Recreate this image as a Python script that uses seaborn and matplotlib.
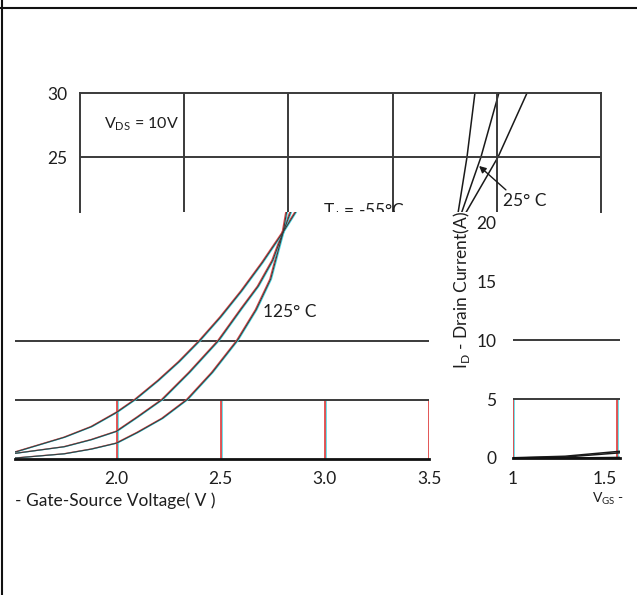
import matplotlib
matplotlib.use("Agg")
import matplotlib.pyplot as plt
import matplotlib.transforms as mtransforms
from matplotlib.lines import Line2D
import numpy as np
import pandas as pd
import seaborn as sns

# ---------------- data ----------------
vgs_125 = [1.0, 1.25, 1.52, 1.75, 1.88, 2.0, 2.09, 2.2, 2.3, 2.4, 2.5, 2.6, 2.7, 2.8, 3.006, 3.145]
id_125 = [0.02, 0.15, 0.58, 1.8, 2.7, 3.9, 5.0, 6.6, 8.2, 10.0, 12.0, 14.2, 16.6, 19.2, 25.0, 30.0]
vgs_25 = [1.0, 1.25, 1.52, 1.75, 1.88, 2.0, 2.1, 2.22, 2.35, 2.49, 2.6, 2.68, 2.75, 2.8, 2.924, 3.01]
id_25 = [0.0, 0.08, 0.45, 1.0, 1.6, 2.3, 3.5, 5.0, 7.3, 10.0, 12.7, 14.6, 16.8, 19.2, 25.0, 30.0]
vgs_m55 = [1.0, 1.25, 1.52, 1.75, 1.88, 2.0, 2.1, 2.22, 2.34, 2.46, 2.58, 2.67, 2.74, 2.8, 2.857, 2.895]
id_m55 = [0.0, 0.0, 0.05, 0.4, 0.8, 1.3, 2.2, 3.4, 5.0, 7.3, 10.0, 12.6, 15.2, 19.2, 25.0, 30.0]

x_ticks_main = [2.0, 2.5, 3.0, 3.5]
x_ticklabels_main = ["2.0", "2.5", "3.0", "3.5"]
x_ticks_left = [1.0, 1.5]
x_ticklabels_left = ["1", "1.5"]
y_ticks = [0, 5, 10, 15, 20]
y_ticks_top = [25, 30]

df = pd.concat([
    pd.DataFrame({"Vgs": vgs_125, "Id": id_125, "Tj": "125"}),
    pd.DataFrame({"Vgs": vgs_25, "Id": id_25, "Tj": "25"}),
    pd.DataFrame({"Vgs": vgs_m55, "Id": id_m55, "Tj": "-55"}),
], ignore_index=True)

# ---------------- style ----------------
sns.set_style("white")
plt.rcParams["font.family"] = ["Lato", "DejaVu Sans"]
TXT = "#1e1e1e"
GRID = "#3a3a3a"
RED = "#e04848"
CYAN = "#46d8e6"
FS = 12.5

W, H = 637, 595
fig = plt.figure(figsize=(W / 100, H / 100), dpi=100)


def px_axes(l, t, r, b):
    return fig.add_axes([l / W, 1 - b / H, (r - l) / W, (b - t) / H])


def offset(ax, dx):
    return mtransforms.offset_copy(ax.transData, fig=fig, x=dx, y=0, units="dots")


def draw_curves(ax, fringe=False):
    if fringe:
        sns.lineplot(data=df, x="Vgs", y="Id", units="Tj", estimator=None, sort=False,
                     color=RED, lw=0.9, ax=ax, legend=False, transform=offset(ax, -0.9))
        sns.lineplot(data=df, x="Vgs", y="Id", units="Tj", estimator=None, sort=False,
                     color=CYAN, lw=0.8, ax=ax, legend=False, transform=offset(ax, 0.9))
        sns.lineplot(data=df, x="Vgs", y="Id", units="Tj", estimator=None, sort=False,
                     color="#3a3a3a", lw=0.8, ax=ax, legend=False)
    else:
        sns.lineplot(data=df, x="Vgs", y="Id", units="Tj", estimator=None, sort=False,
                     color="#1a1a1a", lw=1.1, ax=ax, legend=False)


def rc_vlines(ax, xs, y0, y1):
    ax.vlines(xs, y0, y1, colors=CYAN, lw=1.1, transform=offset(ax, 1.0))
    ax.vlines(xs, y0, y1, colors=RED, lw=1.3)


def clean(ax):
    ax.set_xlabel("")
    ax.set_ylabel("")
    ax.set_facecolor("none")
    for s in ax.spines.values():
        s.set_visible(False)
    ax.tick_params(length=0, colors=TXT, labelsize=FS)


# ---------------- top view (I_D 20.7 .. 30) ----------------
ax_top = px_axes(80, 93, 601, 212)
draw_curves(ax_top)
clean(ax_top)
ax_top.set_xlim(1.0, 3.5)
ax_top.set_ylim(30 - 119 / 12.8, 30)
ax_top.set_xticks([])
ax_top.set_yticks(y_ticks_top)
ax_top.set_yticklabels([str(v) for v in y_ticks_top])
ax_top.tick_params(axis="y", pad=9)
for side in ("top", "left", "right"):
    ax_top.spines[side].set_visible(True)
    ax_top.spines[side].set_color(GRID)
    ax_top.spines[side].set_linewidth(1.4)
ax_top.hlines([25], 1.0, 3.5, colors=GRID, lw=1.4)
ax_top.vlines([1.5, 2.0, 2.5, 3.0], 0, 30, colors=GRID, lw=1.4)
ax_top.text(1.115, 27.6, "V$_\\mathregular{DS}$ = 10V", fontsize=11.5, color=TXT, va="center", ha="left")
ax_top.annotate("25° C", xy=(2.915, 24.3), xytext=(3.03, 21.55), fontsize=FS, color=TXT,
                ha="left", va="center",
                arrowprops=dict(arrowstyle="-|>", color="#1a1a1a", lw=1.0, mutation_scale=10,
                                shrinkA=0, shrinkB=0, relpos=(0.15, 1.0)))
ax_top.text(2.165, 20.8, "T$_\\mathregular{J}$ = -55°C", fontsize=FS, color=TXT,
            ha="left", va="center", clip_on=True)

# ---------------- lower view (I_D 0 .. 20.9, V_GS 1.51 .. 3.5) ----------------
ax_low = px_axes(15, 212, 429, 458.5)
rc_vlines(ax_low, x_ticks_main, 0, 5)
ax_low.hlines([5, 10], 1.0, 3.5, colors=GRID, lw=1.4)
draw_curves(ax_low, fringe=True)
clean(ax_low)
ax_low.set_xlim(2.0 - 101.5 / 208.3, 3.5)
ax_low.set_ylim(0, 246.5 / 11.8)
ax_low.spines["bottom"].set_visible(True)
ax_low.spines["bottom"].set_color("#111111")
ax_low.spines["bottom"].set_linewidth(2.0)
ax_low.set_xticks(x_ticks_main)
ax_low.set_xticklabels(x_ticklabels_main)
ax_low.set_yticks([])
ax_low.tick_params(axis="x", pad=9)
ax_low.text(2.705, 12.4, "125° C", fontsize=FS, color=TXT, ha="left", va="center")
fig.text(15 / W, 1 - 501 / H, "- Gate-Source Voltage( V )", fontsize=FS, color=TXT,
         ha="left", va="center")

# ---------------- right view (V_GS 1.0 .. 1.51, with the I_D axis) ----------------
ax_r = px_axes(513, 212, 620, 458)
rc_vlines(ax_r, x_ticks_left, 0, 5)
ax_r.hlines([5, 10], 1.0, 3.5, colors=GRID, lw=1.4)
draw_curves(ax_r)
clean(ax_r)
ax_r.set_xlim(1.0, 1.0 + 107 / 208.3)
ax_r.set_ylim(0, 246 / 11.8)
ax_r.spines["bottom"].set_visible(True)
ax_r.spines["bottom"].set_color("#111111")
ax_r.spines["bottom"].set_linewidth(2.0)
ax_r.set_xticks(x_ticks_left)
ax_r.set_xticklabels(x_ticklabels_left)
ax_r.get_xticklabels()[1].set_horizontalalignment("right")
ax_r.set_yticks(y_ticks)
ax_r.set_yticklabels([str(v) for v in y_ticks])
ax_r.tick_params(axis="x", pad=9)
ax_r.tick_params(axis="y", pad=12)
fig.text(462 / W, 1 - 290 / H, "I$_\\mathregular{D}$ - Drain Current(A)", fontsize=FS, color=TXT,
         rotation=90, ha="center", va="center")
fig.text(592 / W, 1 - 499 / H, "V$_\\mathregular{GS}$ -", fontsize=10, color=TXT,
         ha="left", va="center")

# ---------------- page frame ----------------
fig.add_artist(Line2D([0, 1], [1 - 8 / H, 1 - 8 / H], color="#111111", lw=1.5))
fig.add_artist(Line2D([2 / W, 2 / W], [0, 1], color="#111111", lw=1.5))

fig.savefig("out.png", dpi=100, facecolor="white")
